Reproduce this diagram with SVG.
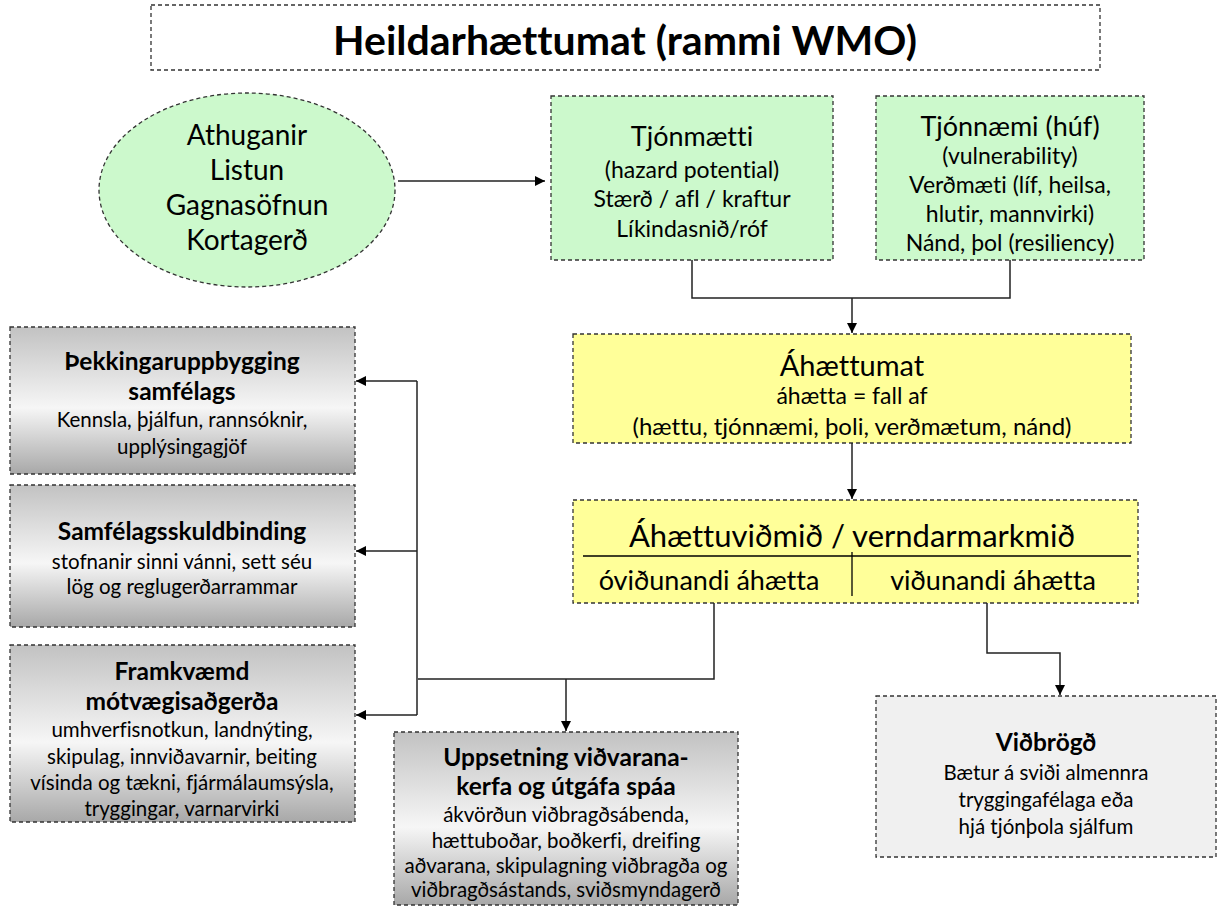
<svg xmlns="http://www.w3.org/2000/svg" width="1217" height="911" viewBox="0 0 1217 911">
<defs>
<style>
text{font-family:Lato,"Liberation Sans",sans-serif;fill:#000;text-anchor:middle;font-variant-ligatures:none;font-feature-settings:"liga" 0,"clig" 0}
.box{stroke:#333;stroke-width:1.3;stroke-dasharray:4 3}
.green{fill:#ccf9cc}
.yellow{fill:#ffff99}
.gray{fill:url(#gg)}
.light{fill:#f0f0f0}
.conn{fill:none;stroke:#222;stroke-width:1.5}
.b{font-weight:bold}
.h27{font-size:27px}
.s23{font-size:23px}
.s21{font-size:20.5px}
.hb{font-size:24.5px;font-weight:bold}
</style>
<linearGradient id="gg" x1="0" y1="0" x2="0" y2="1">
<stop offset="0" stop-color="#c2c2c2"/>
<stop offset="0.55" stop-color="#f6f6f6"/>
<stop offset="1" stop-color="#a8a8a8"/>
</linearGradient>
<marker id="ah" viewBox="0 0 10 10" refX="10" refY="5" markerWidth="10" markerHeight="10" markerUnits="userSpaceOnUse" orient="auto">
<path d="M0,0 L10,5 L0,10 z" fill="#000"/>
</marker>
</defs>

<g id="title">
<rect class="box" x="151" y="5" width="949" height="65" fill="#fff"/>
<text x="625" y="55" class="b" font-size="41">Heildarhættumat (rammi WMO)</text>
</g>

<g id="obs">
<ellipse class="box green" cx="247" cy="190" rx="148" ry="97"/>
<text x="247" y="145" font-size="28">Athuganir</text>
<text x="247" y="180" font-size="28">Listun</text>
<text x="247" y="215" font-size="28">Gagnasöfnun</text>
<text x="247" y="250" font-size="28">Kortagerð</text>
</g>

<g id="hazard">
<rect class="box green" x="551" y="96" width="282" height="164"/>
<text class="h27" x="692" y="146">Tjónmætti</text>
<text class="s23" x="692" y="178">(hazard potential)</text>
<text class="s23" x="692" y="207">Stærð / afl / kraftur</text>
<text class="s23" x="692" y="237">Líkindasnið/róf</text>
</g>

<g id="vuln">
<rect class="box green" x="876" y="96" width="268" height="164"/>
<text class="h27" x="1010" y="136">Tjónnæmi (húf)</text>
<text class="s23" x="1010" y="164">(vulnerability)</text>
<text class="s23" x="1010" y="193">Verðmæti (líf, heilsa,</text>
<text class="s23" x="1010" y="222">hlutir, mannvirki)</text>
<text class="s23" x="1010" y="251">Nánd, þol (resiliency)</text>
</g>

<g id="riskassess">
<rect class="box yellow" x="573" y="334" width="558" height="109"/>
<text x="852" y="376" font-size="29">Áhættumat</text>
<text class="s23" x="852" y="404">áhætta = fall af</text>
<text x="852" y="435" font-size="24">(hættu, tjónnæmi, þoli, verðmætum, nánd)</text>
</g>

<g id="criteria">
<rect class="box yellow" x="573" y="500" width="565" height="103"/>
<text x="852" y="547" font-size="31">Áhættuviðmið / verndarmarkmið</text>
<line x1="583" y1="556" x2="1131" y2="556" stroke="#000" stroke-width="1.3"/>
<line x1="852" y1="552" x2="852" y2="596" stroke="#000" stroke-width="1.3"/>
<text x="709" y="590" font-size="27">óviðunandi áhætta</text>
<text x="993" y="590" font-size="27">viðunandi áhætta</text>
</g>

<g id="knowledge">
<rect class="box gray" x="10" y="327" width="345" height="147"/>
<text class="hb" x="182" y="370">Þekkingaruppbygging</text>
<text class="hb" x="182" y="400">samfélags</text>
<text class="s21" x="182" y="427">Kennsla, þjálfun, rannsóknir,</text>
<text class="s21" x="182" y="454">upplýsingagjöf</text>
</g>

<g id="commitment">
<rect class="box gray" x="10" y="485" width="345" height="142"/>
<text class="hb" x="182" y="540">Samfélagsskuldbinding</text>
<text class="s21" x="182" y="569">stofnanir sinni vánni, sett séu</text>
<text class="s21" x="182" y="594">lög og reglugerðarrammar</text>
</g>

<g id="mitigation">
<rect class="box gray" x="10" y="645" width="345" height="177"/>
<text class="hb" x="182" y="680">Framkvæmd</text>
<text class="hb" x="182" y="710">mótvægisaðgerða</text>
<text class="s21" x="182" y="737">umhverfisnotkun, landnýting,</text>
<text class="s21" x="182" y="764">skipulag, innviðavarnir, beiting</text>
<text class="s21" x="182" y="790">vísinda og tækni, fjármálaumsýsla,</text>
<text class="s21" x="182" y="816">tryggingar, varnarvirki</text>
</g>

<g id="warning">
<rect class="box gray" x="394" y="732" width="344" height="173"/>
<text class="hb" x="566" y="766">Uppsetning viðvarana-</text>
<text class="hb" x="566" y="795">kerfa og útgáfa spáa</text>
<text class="s21" x="566" y="822">ákvörðun viðbragðsábenda,</text>
<text class="s21" x="566" y="848">hættuboðar, boðkerfi, dreifing</text>
<text class="s21" x="566" y="873">aðvarana, skipulagning viðbragða og</text>
<text class="s21" x="566" y="897">viðbragðsástands, sviðsmyndagerð</text>
</g>

<g id="response">
<rect class="box light" x="876" y="696" width="340" height="161"/>
<text class="hb" x="1046" y="751">Viðbrögð</text>
<text class="s21" x="1046" y="780">Bætur á sviði almennra</text>
<text class="s21" x="1046" y="807">tryggingafélaga eða</text>
<text class="s21" x="1046" y="834">hjá tjónþola sjálfum</text>
</g>

<g id="connectors">
<path class="conn" d="M398,181 H545" marker-end="url(#ah)"/>
<path class="conn" d="M692,260 V298 H1010 V260"/>
<path class="conn" d="M852,298 V333" marker-end="url(#ah)"/>
<path class="conn" d="M852,443 V499" marker-end="url(#ah)"/>
<path class="conn" d="M714,603 V679 H418"/>
<path class="conn" d="M566,679 V731" marker-end="url(#ah)"/>
<path class="conn" d="M987,603 V653 H1060 V695" marker-end="url(#ah)"/>
<path class="conn" d="M417,381 V715"/>
<path class="conn" d="M417,381 H356" marker-end="url(#ah)"/>
<path class="conn" d="M417,551 H356" marker-end="url(#ah)"/>
<path class="conn" d="M417,715 H356" marker-end="url(#ah)"/>
</g>
</svg>
